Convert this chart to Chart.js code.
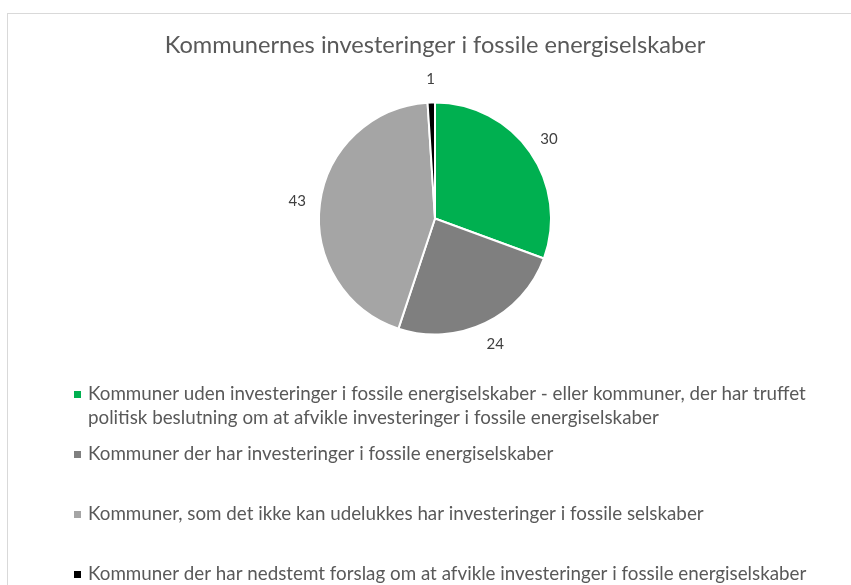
<!DOCTYPE html>
<html>
<head>
<meta charset="utf-8">
<script src="https://cdn.jsdelivr.net/npm/chart.js@4/dist/chart.umd.min.js"></script>
<style>
  html, body { margin: 0; padding: 0; background: #ffffff; }
  canvas { display: block; }
</style>
</head>
<body>
<canvas id="c" width="851" height="585"></canvas>
<script>
const chartTitle = 'Kommunernes investeringer i fossile energiselskaber';
const categories = [
  ['Kommuner uden investeringer i fossile energiselskaber - eller kommuner, der har truffet',
   'politisk beslutning om at afvikle investeringer i fossile energiselskaber'],
  ['Kommuner der har investeringer i fossile energiselskaber'],
  ['Kommuner, som det ikke kan udelukkes har investeringer i fossile selskaber'],
  ['Kommuner der har nedstemt forslag om at afvikle investeringer i fossile energiselskaber']
];
const values = [30, 24, 43, 1];
const colors = ['#00B050', '#7F7F7F', '#A5A5A5', '#000000'];

const FONT = 'Lato, "Open Sans", sans-serif';

const decor = {
  id: 'decor',
  beforeDraw(chart) {
    const ctx = chart.ctx;
    ctx.save();
    ctx.strokeStyle = '#D9D9D9';
    ctx.lineWidth = 1;
    ctx.strokeRect(7.5, 13.5, 900, 700);
    ctx.fillStyle = '#595959';
    ctx.font = '23.6px ' + FONT;
    ctx.textAlign = 'center';
    ctx.textBaseline = 'middle';
    ctx.fillText(chartTitle, 435, 45);
    ctx.restore();
  },
  afterDatasetsDraw(chart) {
    const ctx = chart.ctx;
    const meta = chart.getDatasetMeta(0);
    ctx.save();
    ctx.font = '15px ' + FONT;
    ctx.fillStyle = '#404040';
    ctx.textAlign = 'center';
    ctx.textBaseline = 'middle';
    meta.data.forEach((arc, i) => {
      const p = arc.getProps(['x', 'y', 'startAngle', 'endAngle', 'outerRadius'], true);
      const mid = (p.startAngle + p.endAngle) / 2;
      const lr = p.outerRadius + 23;
      ctx.fillText(String(values[i]), p.x + Math.cos(mid) * lr, p.y + Math.sin(mid) * lr);
    });
    // legend
    ctx.font = '18.8px ' + FONT;
    ctx.textAlign = 'left';
    ctx.textBaseline = 'middle';
    categories.forEach((lines, i) => {
      const top = 382 + i * 60;
      ctx.fillStyle = colors[i];
      ctx.fillRect(74, top + 9, 7, 7);
      ctx.fillStyle = '#595959';
      lines.forEach((ln, j) => {
        ctx.fillText(ln, 88, top + 12 + j * 24);
      });
    });
    ctx.restore();
  }
};

new Chart(document.getElementById('c'), {
  type: 'pie',
  data: {
    labels: categories,
    datasets: [{
      data: values,
      backgroundColor: colors,
      borderColor: '#FFFFFF',
      borderWidth: 2,
      hoverOffset: 0
    }]
  },
  options: {
    responsive: false,
    animation: false,
    layout: { padding: { top: 101.5, bottom: 249.5, left: 318, right: 299 } },
    plugins: {
      legend: { display: false },
      tooltip: { enabled: false },
      title: { display: false }
    }
  },
  plugins: [decor]
});
</script>
</body>
</html>
